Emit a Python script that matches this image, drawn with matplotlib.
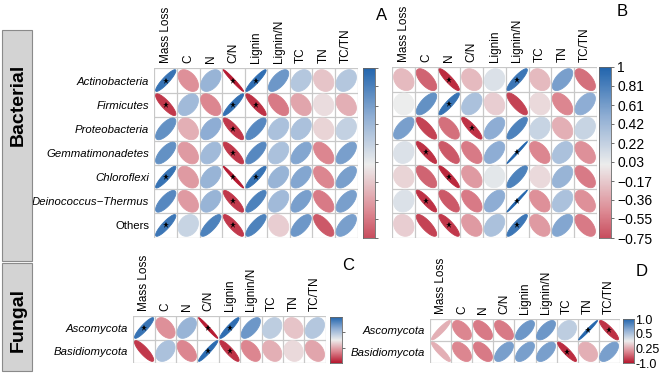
import numpy as np
import matplotlib
matplotlib.use("Agg")
import matplotlib.pyplot as plt
from matplotlib.patches import Polygon, Rectangle
from matplotlib.colors import LinearSegmentedColormap, Normalize

plt.rcParams['font.family'] = ['Liberation Sans', 'DejaVu Sans']

# ---------------- data ----------------
variables = ["Mass Loss", "C", "N", "C/N", "Lignin", "Lignin/N", "TC", "TN", "TC/TN"]
bacteria = ["Actinobacteria", "Firmicutes", "Proteobacteria", "Gemmatimonadetes",
            "Chloroflexi", "Deinococcus\u2212Thermus", "Others"]
fungi = ["Ascomycota", "Basidiomycota"]

r_A = [
    [0.90, -0.45, 0.45, -0.98, 0.93, 0.65, 0.30, -0.20, 0.30],
    [-0.85, 0.40, -0.50, 0.92, -0.88, -0.55, -0.35, -0.08, -0.30],
    [0.70, -0.30, 0.50, -0.85, 0.75, 0.35, 0.35, -0.12, 0.22],
    [0.70, -0.40, 0.40, -0.85, 0.75, 0.35, 0.55, -0.50, 0.60],
    [0.90, -0.40, 0.45, -0.98, 0.90, 0.45, 0.55, -0.50, 0.60],
    [0.75, -0.40, 0.45, -0.85, 0.80, 0.40, 0.60, -0.55, 0.60],
    [0.88, 0.20, 0.80, -0.85, 0.80, -0.15, 0.65, -0.70, 0.60],
]
sig_A = [
    [1, 0, 0, 1, 1, 0, 0, 0, 0],
    [1, 0, 0, 1, 1, 0, 0, 0, 0],
    [0, 0, 0, 1, 0, 0, 0, 0, 0],
    [0, 0, 0, 1, 0, 0, 0, 0, 0],
    [1, 0, 0, 1, 1, 0, 0, 0, 0],
    [0, 0, 0, 1, 0, 0, 0, 0, 0],
    [1, 0, 0, 1, 0, 0, 0, 0, 0],
]
r_B = [
    [-0.25, -0.65, -0.90, -0.25, 0.10, 0.88, -0.25, 0.60, -0.60],
    [0.00, 0.70, 0.90, 0.35, -0.15, -0.80, -0.10, -0.50, 0.50],
    [0.60, -0.80, -0.60, -0.88, 0.50, 0.80, 0.20, -0.30, 0.20],
    [0.10, -0.88, -0.70, -0.55, 0.50, 0.99, -0.50, 0.35, -0.45],
    [-0.12, -0.65, -0.92, -0.40, 0.05, 0.80, -0.10, 0.45, -0.55],
    [0.10, -0.88, -0.70, -0.55, 0.50, 0.99, -0.45, 0.35, -0.45],
    [-0.15, -0.80, -0.85, -0.40, 0.35, 0.88, -0.40, 0.55, -0.55],
]
sig_B = [
    [0, 0, 1, 0, 0, 1, 0, 0, 0],
    [0, 0, 1, 0, 0, 0, 0, 0, 0],
    [0, 0, 0, 1, 0, 0, 0, 0, 0],
    [0, 1, 0, 0, 0, 1, 0, 0, 0],
    [0, 0, 1, 0, 0, 0, 0, 0, 0],
    [0, 1, 0, 0, 0, 1, 0, 0, 0],
    [0, 0, 1, 0, 0, 1, 0, 0, 0],
]
r_C = [
    [0.90, -0.45, 0.45, -0.98, 0.93, 0.65, 0.25, -0.20, 0.30],
    [-0.85, 0.35, -0.50, 0.95, -0.88, -0.50, -0.30, -0.10, -0.35],
]
sig_C = [
    [1, 0, 0, 1, 1, 0, 0, 0, 0],
    [0, 0, 0, 1, 1, 0, 0, 0, 0],
]
r_D = [
    [0.92, -0.50, -0.55, -0.55, 0.65, 0.65, 0.25, 0.98, -0.88],
    [-0.90, -0.50, -0.55, 0.60, 0.60, 0.60, -0.90, -0.30, 0.60],
]
fill_D = [
    [-0.30, -0.50, -0.55, -0.55, 0.65, 0.65, 0.25, 0.98, -0.88],
    [-0.30, -0.50, -0.55, 0.60, 0.60, 0.60, -0.90, -0.30, 0.60],
]
sig_D = [
    [0, 0, 0, 0, 0, 0, 0, 1, 1],
    [0, 0, 0, 0, 0, 0, 1, 0, 0],
]

cbar_B_ticks = [1, 0.81, 0.61, 0.42, 0.22, 0.03, -0.17, -0.36, -0.55, -0.75]
cbar_B_labels = ["1", "0.81", "0.61", "0.42", "0.22", "0.03",
                 "\u22120.17", "\u22120.36", "\u22120.55", "\u22120.75"]
cbar_D_labels = ["1.0", "0.5", "0.25", "-1.0"]

# ---------------- style ----------------
cmap = LinearSegmentedColormap.from_list(
    "rb", ["#B5172E", "#DC8690", "#EDEDED", "#8FAED4", "#2265AD"])
norm = Normalize(-1, 1)
W, H = 661, 380
fig = plt.figure(figsize=(W / 100, H / 100), dpi=100)


def px_axes(x0, y0, x1, y1):
    return fig.add_axes([x0 / W, 1 - y1 / H, (x1 - x0) / W, (y1 - y0) / H])


def corr_panel(ax, r, sig, rows, fill=None, fs=8.2):
    r = np.asarray(r, float)
    n, m = r.shape
    t = np.linspace(0, 2 * np.pi, 80)
    s = 0.9
    for i in range(n):
        for j in range(m):
            rho = np.clip(r[i, j], -0.995, 0.995)
            d = np.arccos(rho)
            x = np.cos(t + d / 2) / 2 * s
            y = np.cos(t - d / 2) / 2 * s
            cy = n - 1 - i
            val = fill[i][j] if fill is not None else r[i, j]
            c = cmap(norm(val))
            ax.add_patch(Polygon(np.column_stack([j + x, cy + y]), closed=True,
                                 fc=c, ec=c, lw=0.6, zorder=2))
            if sig[i][j]:
                ax.plot(j, cy, marker='*', color='k', ms=5, mew=0, zorder=3)
    for k in range(m + 1):
        ax.plot([k - 0.5, k - 0.5], [-0.5, n - 0.5], color='#C8C8C8', lw=0.9, zorder=1)
    for k in range(n + 1):
        ax.plot([-0.5, m - 0.5], [k - 0.5, k - 0.5], color='#C8C8C8', lw=0.9, zorder=1)
    ax.set_xlim(-0.52, m - 0.48)
    ax.set_ylim(-0.52, n - 0.48)
    for sp in ax.spines.values():
        sp.set_visible(False)
    ax.xaxis.tick_top()
    ax.set_xticks(range(m))
    ax.set_xticklabels(variables, rotation=90, fontsize=fs + 0.3)
    ax.set_yticks([n - 1 - i for i in range(n)])
    ax.set_yticklabels(rows, fontsize=fs)
    for lab in ax.get_yticklabels():
        if lab.get_text() != "Others":
            lab.set_fontstyle('italic')
    ax.tick_params(length=0, pad=3.5)


def cbar(ax, lo, hi, ticks, labels=None, fs=10):
    g = np.linspace(hi, lo, 256)[:, None]
    ax.imshow(g, cmap=cmap, norm=norm, aspect='auto', extent=[0, 1, lo, hi])
    ax.set_xticks([])
    ax.yaxis.tick_right()
    ax.set_yticks(ticks)
    if labels is None:
        ax.set_yticklabels([])
        ax.tick_params(axis='y', length=2.5, width=0.6, color='#555555')
    else:
        ax.set_yticklabels(labels, fontsize=fs)
        ax.tick_params(axis='y', length=2.5, width=0.6, color='#555555', pad=2)
    for sp in ax.spines.values():
        sp.set_linewidth(0.6)
        sp.set_color('#666666')


axA = px_axes(154, 68, 358, 238)
corr_panel(axA, r_A, sig_A, bacteria)
cA = px_axes(363, 68, 375, 238)
cbar(cA, -0.75, 1, cbar_B_ticks)

axB = px_axes(392, 67, 597, 238)
corr_panel(axB, r_B, sig_B, [""] * len(bacteria))
cB = px_axes(599, 67, 611, 238)
cbar(cB, -0.75, 1, cbar_B_ticks, cbar_B_labels)

axC = px_axes(133, 316, 326, 363)
corr_panel(axC, r_C, sig_C, fungi)
cC = px_axes(330, 317, 342, 363)
cbar(cC, -1, 1, [1 / 3, -1 / 3])

axD = px_axes(430, 319, 620, 363)
corr_panel(axD, r_D, sig_D, fungi, fill=fill_D)
cD = px_axes(623, 319, 634, 363)
cbar(cD, -1, 1, [1, 1 / 3, -1 / 3, -1], cbar_D_labels, fs=9)
cD.tick_params(axis='y', length=0, pad=1)

# panel letters
for letter, x, y in [("A", 382, 15), ("B", 622, 12), ("C", 348, 266), ("D", 642, 272)]:
    fig.text(x / W, 1 - y / H, letter, fontsize=12, ha='center', va='center')

# side group boxes
for y0, y1 in [(30, 261), (263, 371)]:
    fig.patches.append(Rectangle((2 / W, 1 - y1 / H), 30 / W, (y1 - y0) / H,
                                 transform=fig.transFigure, fc='#D3D3D3',
                                 ec='#8A8A8A', lw=0.8))
fig.text(18 / W, 1 - 105 / H, "Bacterial", rotation=90, fontsize=14,
         fontweight='bold', ha='center', va='center')
fig.text(18 / W, 1 - 320 / H, "Fungal", rotation=90, fontsize=14,
         fontweight='bold', ha='center', va='center')

fig.savefig("out.png", dpi=100)
